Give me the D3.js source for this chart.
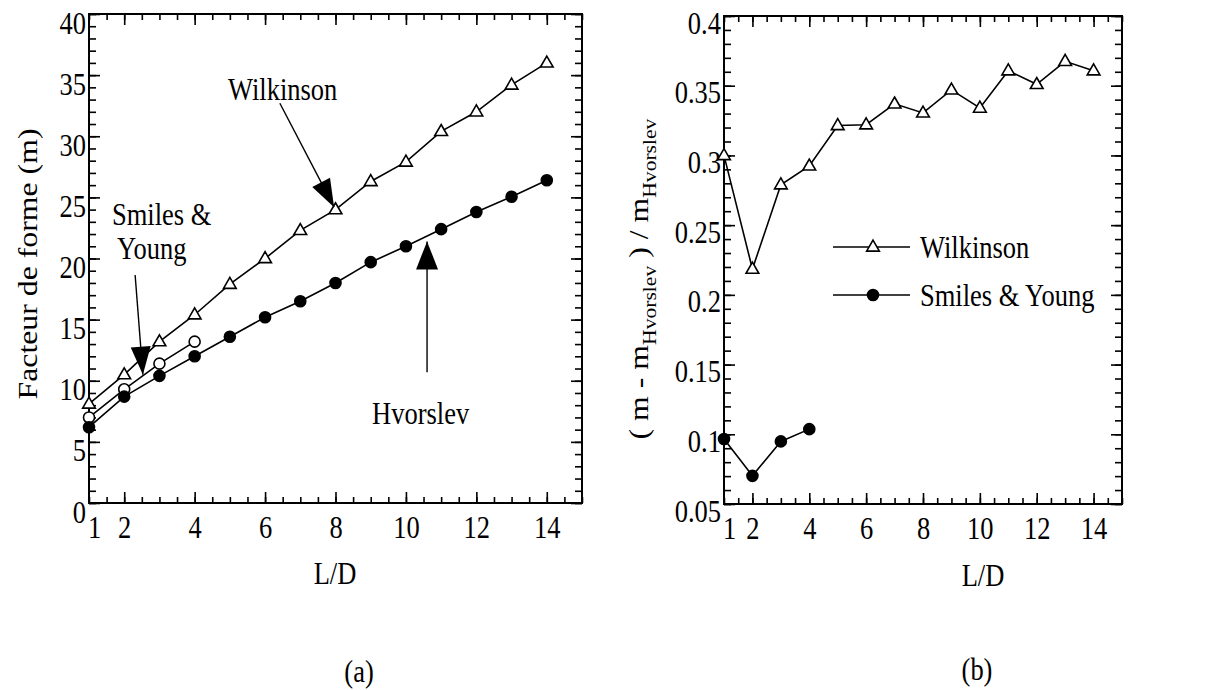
<!DOCTYPE html>
<html><head><meta charset="utf-8">
<script src="https://cdn.jsdelivr.net/npm/d3@7"></script>
<style>
body{margin:0;background:#fff;}
text{font-family:"Liberation Serif","Times New Roman",serif;fill:#000;}
</style></head>
<body><svg id="c" width="1222" height="690"></svg>
<script>
// ---- data ----
const ld = [1,2,3,4,5,6,7,8,9,10,11,12,13,14];
const ldSY = [1,2,3,4];
const mWilkinson = [8.1,10.5,13.2,15.4,17.9,20.0,22.3,24.0,26.3,27.9,30.4,32.0,34.2,36.0];
const mHvorslev  = [6.2,8.7,10.4,12.0,13.6,15.2,16.5,18.0,19.7,21.0,22.4,23.8,25.05,26.4];
const mSmiles    = [7.0,9.3,11.4,13.2];
const rWilkinson = [0.300,0.2185,0.279,0.2925,0.3215,0.322,0.337,0.3305,0.347,0.334,0.3608,0.351,0.3675,0.3608];
const rSmiles    = [0.0966,0.0702,0.0949,0.1037];
const xTickLabels = [1,2,4,6,8,10,12,14];
const yTicksA = [0,5,10,15,20,25,30,35,40];
const yTicksB = [0.05,0.1,0.15,0.2,0.25,0.3,0.35,0.4];

const svg = d3.select("#c");
const FONT = 26.5, SY = 1.2;

function txt(g, x, y, str, opts = {}) {
  const t = g.append("text")
    .attr("transform", `translate(${x},${y}) scale(1,${SY})` + (opts.rot ? ` rotate(${opts.rot})` : ""))
    .attr("text-anchor", opts.anchor || "start").attr("font-size", opts.size || FONT);
  if (str !== null) t.text(str);
  return t;
}

function frame(g, x, y, xMaj, xMin, yMaj, yMin, yFmt, yOff) {
  const [x0,x1] = x.range(), [y0,y1] = y.range();
  const mk = (axis, tv, len) => axis.tickValues(tv).tickSize(len).tickFormat("");
  const style = s => { s.select(".domain").remove(); s.selectAll(".tick line").attr("stroke","#000").attr("stroke-width",1.6); };
  g.append("g").attr("transform",`translate(0,${y0})`).call(mk(d3.axisBottom(x),xMin,-6)).call(style);
  g.append("g").attr("transform",`translate(0,${y0})`).call(mk(d3.axisBottom(x),xMaj,-11)).call(style);
  g.append("g").attr("transform",`translate(0,${y1})`).call(mk(d3.axisTop(x),xMin,-6)).call(style);
  g.append("g").attr("transform",`translate(0,${y1})`).call(mk(d3.axisTop(x),xMaj,-11)).call(style);
  g.append("g").attr("transform",`translate(${x0},0)`).call(mk(d3.axisLeft(y),yMin,-7)).call(style);
  g.append("g").attr("transform",`translate(${x0},0)`).call(mk(d3.axisLeft(y),yMaj,-11)).call(style);
  g.append("g").attr("transform",`translate(${x1},0)`).call(mk(d3.axisRight(y),yMin,-7)).call(style);
  g.append("g").attr("transform",`translate(${x1},0)`).call(mk(d3.axisRight(y),yMaj,-11)).call(style);
  g.append("rect").attr("x",x0).attr("y",y1).attr("width",x1-x0).attr("height",y0-y1)
    .attr("fill","none").attr("stroke","#000").attr("stroke-width",2);
  const xl = g.append("g").attr("transform",`translate(0,${y0})`)
    .call(d3.axisBottom(x).tickValues(xTickLabels).tickSize(0).tickPadding(0).tickFormat(d3.format("d")));
  xl.select(".domain").remove();
  xl.selectAll("text").attr("font-size",FONT).attr("dy",null).attr("y",null)
    .attr("transform", d => `translate(${d===1 ? 5 : 0},35) scale(1,${SY})`)
    .style("font-family",'"Liberation Serif",serif');
  const yl = g.append("g").attr("transform",`translate(${x0},0)`)
    .call(d3.axisLeft(y).tickValues(yMaj).tickSize(0).tickPadding(3).tickFormat(yFmt));
  yl.select(".domain").remove();
  yl.selectAll("text").attr("font-size",FONT).attr("dy",null)
    .attr("transform", `translate(0,${yOff}) scale(1,${SY})`)
    .style("font-family",'"Liberation Serif",serif');
}

function series(g, x, y, xs, ys, marker) {
  const pts = xs.map((d,i)=>[x(d), y(ys[i])]);
  g.append("path").attr("d", d3.line()(pts)).attr("fill","none").attr("stroke","#000").attr("stroke-width",1.6);
  drawMarkers(g, pts, marker);
}
function drawMarkers(g, pts, marker) {
  if (marker === "tri") {
    const sym = d3.symbol().type(d3.symbolTriangle).size(70);
    g.selectAll(null).data(pts).join("path").attr("d", sym)
      .attr("transform", d=>`translate(${d[0]},${d[1]+0.5})`)
      .attr("fill","#fff").attr("stroke","#000").attr("stroke-width",1.6);
  } else {
    g.selectAll(null).data(pts).join("circle").attr("cx",d=>d[0]).attr("cy",d=>d[1]).attr("r",5.5)
      .attr("fill", marker==="dot" ? "#000" : "#fff").attr("stroke","#000").attr("stroke-width",1.6);
  }
}
function arrow(g, x1, y1, x2, y2, len, hw) {
  g.append("path").attr("d", d3.line()([[x1,y1],[x2,y2]])).attr("stroke","#000").attr("stroke-width",1.4);
  const a = Math.atan2(y2-y1, x2-x1), c = Math.cos(a), s = Math.sin(a);
  const bx = x2 - len*c, by = y2 - len*s;
  g.append("path").attr("d", d3.line()([[x2,y2],[bx - hw*s, by + hw*c],[bx + hw*s, by - hw*c]]) + "Z")
    .attr("fill","#000");
}

// ---- panel (a) ----
const xa = d3.scaleLinear().domain([1,15]).range([89,582]);
const ya = d3.scaleLinear().domain([0,40]).range([503,14]);
const ga = svg.append("g");
frame(ga, xa, ya, d3.range(2,15,2), d3.range(1,15.01,0.5), yTicksA, d3.range(0,41,1), d3.format("d"), 19);
series(ga, xa, ya, ld, mWilkinson, "tri");
series(ga, xa, ya, ldSY, mSmiles, "open");
series(ga, xa, ya, ld, mHvorslev, "dot");
txt(ga, 335, 584, "L/D", {anchor:"middle"});
txt(ga, 359, 682, "(a)", {anchor:"middle"});
txt(ga, 37, 264, "Facteur de forme (m)", {anchor:"middle", rot:-90});
txt(ga, 228, 100, "Wilkinson");
txt(ga, 112, 225, "Smiles &");
txt(ga, 117, 259, "Young");
txt(ga, 372, 424, "Hvorslev");
arrow(ga, xa(6.42), ya(32.7), xa(7.96), ya(24.2), 28, 10);
arrow(ga, xa(2.31), ya(18.65), xa(2.53), ya(10.5), 28, 10);
arrow(ga, xa(10.6), ya(10.7), xa(10.6), ya(21.4), 28, 11);

// ---- panel (b) ----
const xb = d3.scaleLinear().domain([1,15]).range([724,1122]);
const yb = d3.scaleLinear().domain([0.05,0.4]).range([504,16]);
const gb = svg.append("g");
const yMinB = d3.range(5,41,1).map(d=>d/100);
frame(gb, xb, yb, d3.range(2,15,2), d3.range(1,15.01,0.5), yTicksB, yMinB, d => String(+d.toFixed(2)), 17);
series(gb, xb, yb, ld, rWilkinson, "tri");
series(gb, xb, yb, ldSY, rSmiles, "dot");
txt(gb, 983, 586, "L/D", {anchor:"middle"});
txt(gb, 977, 680, "(b)", {anchor:"middle"});
const yt = txt(gb, 648, 279, null, {anchor:"middle", rot:-90});
yt.append("tspan").text("( m - m");
yt.append("tspan").attr("font-size",18).attr("dy",8).text("Hvorslev");
yt.append("tspan").attr("dy",-8).text(" ) / m");
yt.append("tspan").attr("font-size",18).attr("dy",8).text("Hvorslev");
// legend
const legend = [["Wilkinson","tri",247],["Smiles & Young","dot",295]];
legend.forEach(([name, mk, ly]) => {
  gb.append("path").attr("d", d3.line()([[833,ly],[910,ly]])).attr("stroke","#000").attr("stroke-width",1.6);
  drawMarkers(gb, [[873,ly]], mk);
  txt(gb, 920, ly+11, name);
});
</script></body></html>
